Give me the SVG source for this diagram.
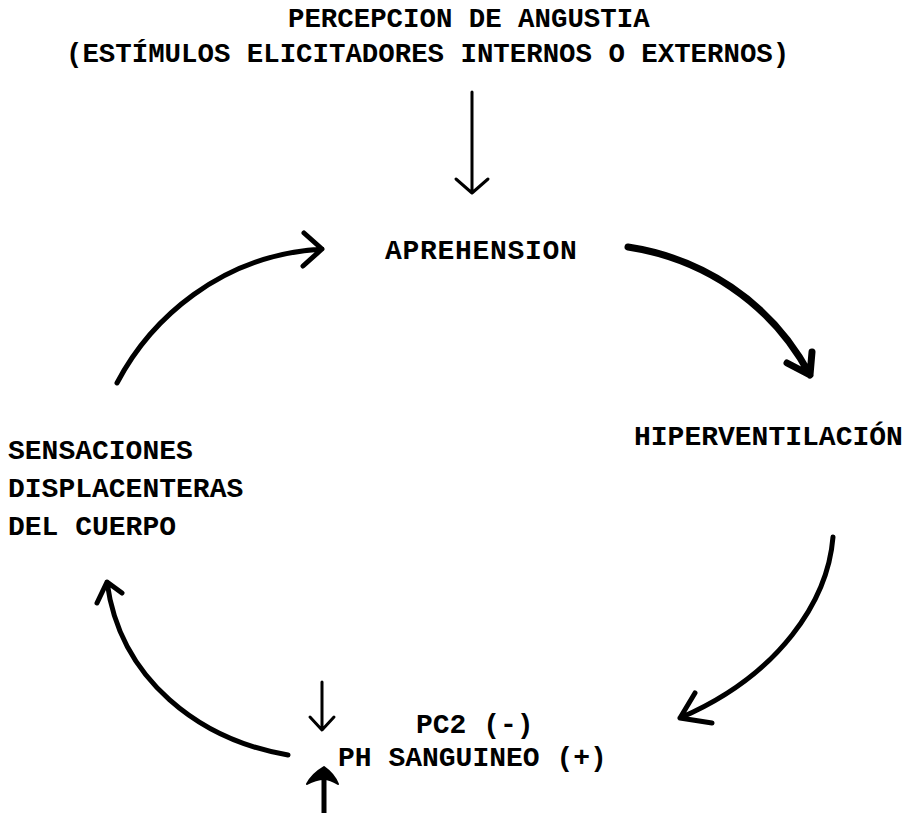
<svg xmlns="http://www.w3.org/2000/svg" width="911" height="813" viewBox="0 0 911 813">
<style>
text{font-family:"Liberation Mono","Courier New",monospace;font-weight:bold;fill:#000;font-size:28px}
.t{font-size:27.4px}
.c{fill:none;stroke:#000;stroke-linecap:round;stroke-linejoin:round}
</style>
<rect width="911" height="813" fill="#fff"/>
<g id="node-percepcion">
<text class="t" x="288" y="27">PERCEPCION DE ANGUSTIA</text>
<text class="t" x="66" y="62">(ESTÍMULOS ELICITADORES INTERNOS O EXTERNOS)</text>
</g>
<g id="node-aprehension"><text x="385" y="259" letter-spacing="0.7">APREHENSION</text></g>
<g id="node-hiperventilacion"><text x="634" y="445">HIPERVENTILACIÓN</text></g>
<g id="node-sensaciones">
<text x="8" y="459">SENSACIONES</text>
<text x="8" y="497">DISPLACENTERAS</text>
<text x="8" y="535">DEL CUERPO</text>
</g>
<g id="node-ph">
<text x="416" y="733">PC2 (-)</text>
<text x="338" y="766">PH SANGUINEO (+)</text>
</g>
<g id="connectors">
<path class="c" stroke-width="3" d="M472,92 L472,192 M456,179 L472,193 L488,179"/>
<path class="c" stroke-width="5" d="M117,383 C150,320 220,255 322,249 M304,233 L322,249 L303,266"/>
<path class="c" stroke-width="7" d="M628,247 C700,258 770,300 810,375 M787,363 L810,375 L812,352"/>
<path class="c" stroke-width="5" d="M833,537 C828,600 780,675 680,718 M695,693 L680,718 L712,723"/>
<path class="c" stroke-width="5" d="M288,755 C200,740 120,680 107,582 M97,603 L107,582 L122,593"/>
<path class="c" stroke-width="3" d="M322,682 L322,729 M310,717 L322,730 L334,717"/>
<path class="c" stroke-width="5" d="M324,813 L324,776"/>
<path d="M307,784 Q312,774 324,767 Q334,774 338,784 Q330,779 324,779 Q316,779 307,784 Z" fill="#000" stroke="#000" stroke-width="2" stroke-linejoin="round"/>
</g>
</svg>
